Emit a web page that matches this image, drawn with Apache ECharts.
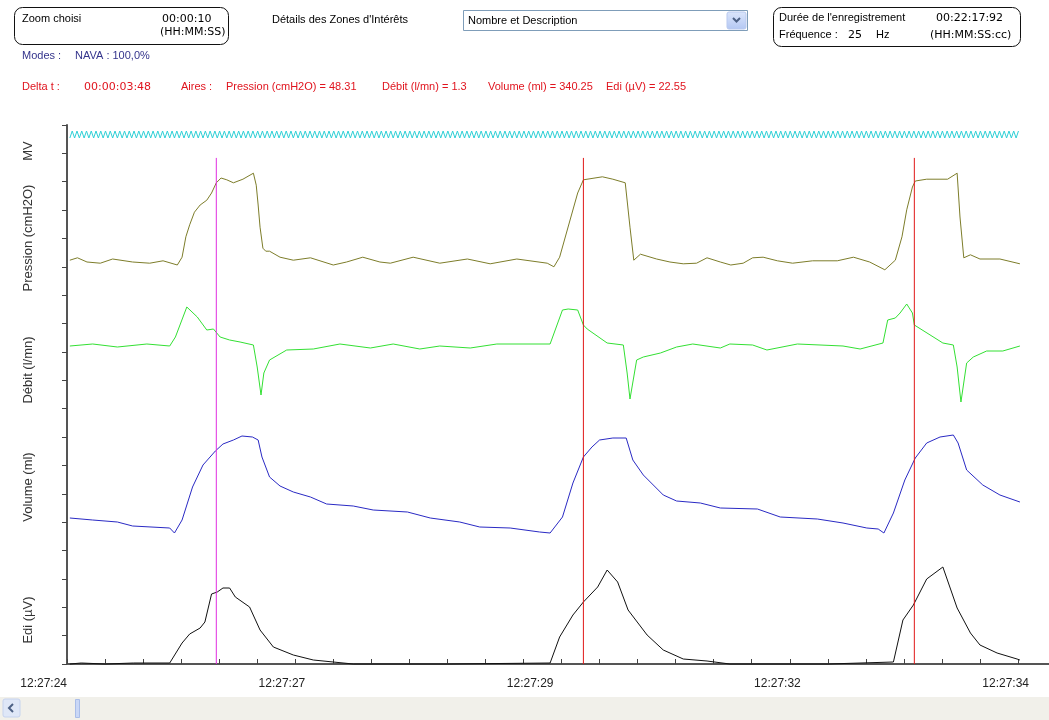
<!DOCTYPE html>
<html><head><meta charset="utf-8">
<script src="https://cdn.jsdelivr.net/npm/echarts@6/dist/echarts.min.js"></script>
<style>html,body{margin:0;padding:0;background:#fff}#c{width:1049px;height:720px}</style>
</head><body><div id="c"></div>
<script>
// ---- data ----
const timeLabels = ['12:27:24', '12:27:27', '12:27:29', '12:27:32', '12:27:34'];
const timeLabelAt = [0, 2.26, 4.87, 7.47, 9.87];
const channelNames = ['MV', 'Pression (cmH2O)', 'Débit (l/mn)', 'Volume (ml)', 'Edi (µV)'];
const cursorTimes = [1.57, 5.43, 8.91];

const pressionT = [0.03,0.11,0.21,0.35,0.48,0.69,0.87,1.01,1.16,1.21,1.25,1.29,1.34,1.40,1.47,1.52,1.57,1.62,1.68,1.75,1.85,1.96,1.99,2.01,2.03,2.06,2.09,2.13,2.24,2.38,2.56,2.80,2.94,3.11,3.29,3.40,3.64,3.92,4.21,4.45,4.73,5.05,5.12,5.18,5.29,5.37,5.43,5.63,5.74,5.87,5.92,5.96,6.03,6.20,6.34,6.48,6.62,6.73,6.87,6.98,7.11,7.21,7.32,7.47,7.63,7.84,8.10,8.27,8.44,8.60,8.71,8.78,8.83,8.89,8.92,9.04,9.26,9.36,9.39,9.43,9.50,9.60,9.81,10.02];
const pressionV = [5.3,5.7,5.0,4.8,5.5,5.0,4.8,5.2,4.5,5.8,9.2,11.2,13.3,14.5,15.3,16.5,18.2,19.0,18.7,18.2,18.8,19.8,17.8,14.5,10.8,7.3,6.8,6.8,5.8,5.3,5.7,4.5,5.0,5.8,5.0,4.8,5.8,4.8,5.5,4.7,5.5,4.8,4.2,5.8,12.0,16.5,18.7,19.2,18.8,18.2,10.8,5.3,6.3,5.5,5.0,4.7,4.8,5.7,5.0,4.5,4.8,5.7,5.8,5.2,4.8,5.2,5.2,5.8,5.0,3.7,5.3,9.2,13.7,17.5,18.5,18.8,18.8,19.8,12.5,5.7,6.2,5.5,5.5,4.7];

const debitT = [0.03,0.27,0.53,0.84,1.08,1.14,1.26,1.37,1.47,1.54,1.61,1.71,1.82,1.96,2.00,2.04,2.07,2.13,2.31,2.59,2.87,3.19,3.43,3.71,3.92,4.24,4.52,5.08,5.21,5.27,5.37,5.43,5.47,5.68,5.85,5.89,5.92,5.99,6.06,6.24,6.41,6.58,6.87,6.97,7.21,7.36,7.68,8.16,8.34,8.58,8.63,8.71,8.76,8.83,8.89,8.91,9.21,9.32,9.36,9.40,9.46,9.53,9.67,9.84,10.02];
const debitV = [-0.5,0.5,-1.0,0.5,-0.5,4.0,19.0,14.0,7.5,8.0,4.0,2.5,1.5,0,-11.0,-25.0,-14.0,-7.5,-2.5,-2.0,0.5,-1.5,0.5,-2.0,-0.5,-1.5,0.5,0.5,17.5,18.0,17.5,10.0,8.0,1.0,0,-14.0,-27.0,-7.5,-6.0,-4.0,-1.0,0.5,-1.5,0.5,0,-2.5,0.5,-0.5,-2.0,1.0,12.5,13.5,16.0,20.5,16.0,10.0,1.0,0,-11.0,-28.5,-9.0,-6.0,-3.0,-3.0,-0.5];

const volumeT = [0.03,0.27,0.53,0.69,1.08,1.13,1.21,1.32,1.43,1.56,1.64,1.75,1.84,1.95,2.01,2.05,2.13,2.24,2.38,2.56,2.73,3.01,3.22,3.58,3.82,4.13,4.34,4.66,4.97,5.08,5.21,5.32,5.43,5.52,5.60,5.74,5.88,5.95,6.06,6.27,6.41,6.66,6.87,7.26,7.50,7.89,8.16,8.41,8.53,8.59,8.69,8.81,8.92,9.04,9.18,9.32,9.37,9.46,9.63,9.81,10.02];
const volumeV = [42,40,38,34,32,27,40,73,95,109,116,120,124,123,120,103,83,74,68,63,56,54,50,48,42,38,33,32,28,27,43,77,103,113,120,122,122,100,85,65,59,57,52,51,43,41,37,32,31,27,47,80,102,117,123,125,117,90,75,65,58];

const ediT = [0.03,0.15,0.40,0.70,1.08,1.21,1.29,1.40,1.45,1.52,1.58,1.64,1.71,1.77,1.92,2.03,2.17,2.38,2.59,2.80,3.01,4.00,5.08,5.18,5.32,5.43,5.58,5.68,5.79,5.90,6.10,6.27,6.48,6.73,6.97,8.00,8.69,8.79,8.90,9.04,9.21,9.36,9.50,9.60,9.78,9.99,10.02];
const ediV = [0,0.2,0,0.2,0.2,4.2,6.0,7.2,8.4,14.0,14.4,15.2,15.2,13.4,11.4,6.8,3.4,1.8,0.8,0.4,0,0,0.2,5.4,9.8,12.4,15.4,18.8,16.4,10.8,5.8,2.8,1.0,0.6,0,0,0.4,8.8,11.8,17.0,19.4,11.2,6.2,3.8,2.2,1.0,0.8];

// MV channel (dense zig-zag), one value every 0.025 s
const mvStart = 0.03, mvStep = 0.025;
const mvValues = [
0,1,0,1,0,1,0,1,0,1,0,1,0,1,0,1,0,1,0,1,
0,1,0,1,0,1,0,1,0,1,0,1,0,1,0,1,0,1,0,1,
0,1,0,1,0,1,0,1,0,1,0,1,0,1,0,1,0,1,0,1,
0,1,0,1,0,1,0,1,0,1,0,1,0,1,0,1,0,1,0,1,
0,1,0,1,0,1,0,1,0,1,0,1,0,1,0,1,0,1,0,1,
0,1,0,1,0,1,0,1,0,1,0,1,0,1,0,1,0,1,0,1,
0,1,0,1,0,1,0,1,0,1,0,1,0,1,0,1,0,1,0,1,
0,1,0,1,0,1,0,1,0,1,0,1,0,1,0,1,0,1,0,1,
0,1,0,1,0,1,0,1,0,1,0,1,0,1,0,1,0,1,0,1,
0,1,0,1,0,1,0,1,0,1,0,1,0,1,0,1,0,1,0,1,
0,1,0,1,0,1,0,1,0,1,0,1,0,1,0,1,0,1,0,1,
0,1,0,1,0,1,0,1,0,1,0,1,0,1,0,1,0,1,0,1,
0,1,0,1,0,1,0,1,0,1,0,1,0,1,0,1,0,1,0,1,
0,1,0,1,0,1,0,1,0,1,0,1,0,1,0,1,0,1,0,1,
0,1,0,1,0,1,0,1,0,1,0,1,0,1,0,1,0,1,0,1,
0,1,0,1,0,1,0,1,0,1,0,1,0,1,0,1,0,1,0,1,
0,1,0,1,0,1,0,1,0,1,0,1,0,1,0,1,0,1,0,1,
0,1,0,1,0,1,0,1,0,1,0,1,0,1,0,1,0,1,0,1,
0,1,0,1,0,1,0,1,0,1,0,1,0,1,0,1,0,1,0,1,
0,1,0,1,0,1,0,1,0,1,0,1,0,1,0,1,0,1,0,1
];

// ---- layout / style ----
const FONT = 'Liberation Sans, Arial, sans-serif';
const NUMFONT = 'DejaVu Sans, sans-serif';
const GRID_LEFT = 67, GRID_W = 982;
const X_MAX = 10.326;
const zip = (t, v) => t.map((x, i) => [x, v[i]]);

const traces = [
  { name: channelNames[0], data: mvValues.map((v, i) => [mvStart + i * mvStep, v]), color: '#2fd0d6', top: 131, height: 7, min: 0, max: 1, labelY: 151 },
  { name: channelNames[1], data: zip(pressionT, pressionV), color: '#7d7d2a', top: 142, height: 150, min: 0, max: 25, labelY: 238 },
  { name: channelNames[2], data: zip(debitT, debitV), color: '#33e033', top: 285, height: 120, min: -30, max: 30, labelY: 370 },
  { name: channelNames[3], data: zip(volumeT, volumeV), color: '#2a2ac4', top: 420, height: 140, min: 0, max: 140, labelY: 487 },
  { name: channelNames[4], data: zip(ediT, ediV), color: '#111111', top: 564, height: 100, min: 0, max: 20, labelY: 620 }
];

const gridBase = { left: GRID_LEFT, width: GRID_W, outerBoundsMode: 'none', containLabel: false };
const grids = [Object.assign({ top: 125, height: 539 }, gridBase)];
const xAxes = [{
  type: 'value', gridIndex: 0, min: 0, max: X_MAX, interval: 0.4,
  axisLine: { lineStyle: { color: '#555', width: 2 } },
  axisTick: { show: true, inside: true, length: 5, lineStyle: { color: '#444', width: 1 } },
  splitLine: { show: false },
  axisLabel: {
    customValues: timeLabelAt,
    formatter: (v) => { const i = timeLabelAt.indexOf(v); return i >= 0 ? timeLabels[i] : ''; },
    alignMinLabel: 'right',
    color: '#222', fontFamily: FONT, fontSize: 12, margin: 14
  }
}];
const yAxes = [{
  type: 'value', gridIndex: 0, min: 0, max: 19, interval: 1,
  axisLine: { show: true, lineStyle: { color: '#555', width: 2 } },
  axisTick: { show: true, inside: false, length: 5, lineStyle: { color: '#444', width: 1 } },
  axisLabel: { show: false }, splitLine: { show: false }
}];
const series = [];
traces.forEach((tr, k) => {
  const gi = k + 1;
  grids.push(Object.assign({ top: tr.top, height: tr.height }, gridBase));
  xAxes.push({ type: 'value', gridIndex: gi, min: 0, max: X_MAX, show: false });
  yAxes.push({ type: 'value', gridIndex: gi, min: tr.min, max: tr.max, show: false });
  series.push({
    type: 'line', name: tr.name, xAxisIndex: gi, yAxisIndex: gi, data: tr.data,
    symbol: 'none', clip: false, silent: true,
    lineStyle: { color: tr.color, width: 1 }
  });
});
// cursors (in the master grid)
const CURSOR_TOP = 17.84;
cursorTimes.forEach((t, i) => {
  series.push({
    type: 'line', xAxisIndex: 0, yAxisIndex: 0, symbol: 'none', silent: true,
    data: [[t, 0], [t, CURSOR_TOP]],
    lineStyle: { color: i === 0 ? '#e02ee0' : '#e01818', width: 1 }
  });
});

const txt = (x, y, s, o, f) => ({ type: 'text', x: x, y: y, silent: true,
  style: Object.assign({ text: s, font: f || ('11px ' + FONT), fill: '#000', verticalAlign: 'middle' }, o || {}) });
const num = '11px ' + NUMFONT;
const RED = '#e0141e', NAVY = '#34348c';

const graphics = [
  // box "Zoom choisi"
  { type: 'rect', shape: { x: 14.5, y: 7.5, width: 214, height: 37, r: 8 }, style: { fill: '#fff', stroke: '#111', lineWidth: 1 } },
  txt(22, 19, 'Zoom choisi'), txt(162, 19, '00:00:10', null, num), txt(160, 32, '(HH:MM:SS)', null, num),
  txt(272, 20, 'Détails des Zones d\'Intérêts'),
  // select
  { type: 'rect', shape: { x: 463.5, y: 10.5, width: 284, height: 20 }, style: { fill: '#fff', stroke: '#7f9db9', lineWidth: 1 } },
  txt(468, 21, 'Nombre et Description'),
  { type: 'rect', shape: { x: 727, y: 12, width: 19, height: 17, r: 2 }, style: { fill: { type: 'linear', x: 0, y: 0, x2: 0, y2: 1, colorStops: [{ offset: 0, color: '#dce6fb' }, { offset: 1, color: '#b3c7f3' }] }, stroke: '#b9c9ef' } },
  { type: 'polyline', shape: { points: [[733, 18], [736.5, 21.5], [740, 18]] }, style: { stroke: '#4d6185', lineWidth: 2, fill: null } },
  // box "Durée"
  { type: 'rect', shape: { x: 773.5, y: 7.5, width: 247, height: 39, r: 8 }, style: { fill: '#fff', stroke: '#111', lineWidth: 1 } },
  txt(779, 18, 'Durée de l\'enregistrement'), txt(936, 18, '00:22:17:92', null, num),
  txt(779, 35, 'Fréquence :'), txt(848, 35, '25', null, num), txt(876, 35, 'Hz'), txt(930, 35, '(HH:MM:SS:cc)', null, num),
  // modes
  txt(22, 56, 'Modes :', { fill: NAVY }), txt(75, 56, 'NAVA : 100,0%', { fill: NAVY }),
  // delta line
  txt(22, 87, 'Delta t :', { fill: RED }), txt(84, 87, '00:00:03:48', { fill: RED }, num),
  txt(181, 87, 'Aires :', { fill: RED }),
  txt(226, 87, 'Pression (cmH2O) = 48.31', { fill: RED }),
  txt(382, 87, 'Débit (l/mn) = 1.3', { fill: RED }),
  txt(488, 87, 'Volume (ml) = 340.25', { fill: RED }),
  txt(606, 87, 'Edi (µV) = 22.55', { fill: RED }),
  // scroll bar
  { type: 'rect', shape: { x: 0, y: 697, width: 1049, height: 23 }, style: { fill: '#f1f0ea' } },
  { type: 'rect', shape: { x: 3, y: 699, width: 17, height: 18, r: 2 }, style: { fill: '#dfe7f7', stroke: '#c6d3ee' } },
  { type: 'polyline', shape: { points: [[13, 704], [9, 708], [13, 712]] }, style: { stroke: '#4d6185', lineWidth: 2, fill: null } },
  { type: 'rect', shape: { x: 75.5, y: 699.5, width: 4, height: 18 }, style: { fill: '#c9d7f6', stroke: '#a9bde8' } }
];
traces.forEach((tr) => {
  graphics.push({ type: 'text', x: 28, y: tr.labelY, rotation: Math.PI / 2, silent: true,
    style: { text: tr.name, font: '13px ' + FONT, fill: '#333', align: 'center', verticalAlign: 'middle' } });
});

const chart = echarts.init(document.getElementById('c'), null, { renderer: 'canvas' });
chart.setOption({
  animation: false,
  backgroundColor: '#fff',
  grid: grids, xAxis: xAxes, yAxis: yAxes, series: series,
  graphic: { elements: graphics }
});
</script></body></html>
